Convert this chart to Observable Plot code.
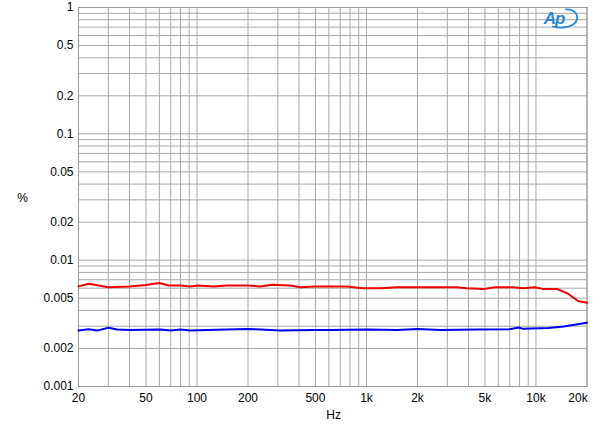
<!DOCTYPE html>
<html><head><meta charset="utf-8">
<script src="https://cdn.jsdelivr.net/npm/d3@7"></script>
<script src="https://cdn.jsdelivr.net/npm/@observablehq/plot@0.6"></script>
<style>body{margin:0;background:#fff;font-family:"Liberation Sans",Arial,sans-serif}</style>
</head><body><div id="chart"></div>
<script>
const redFreq = [20,23,30,40,50,60,68,80,91,102,126,150,197,237,277,356,408,492,611,768,947,1212,1520,1990,2730,3400,3900,4890,5730,7300,8400,9880,11100,13370,15400,17700,20000];
const redVal  = [0.0062,0.0065,0.0061,0.0062,0.00636,0.0066,0.0063,0.0063,0.0062,0.0063,0.0062,0.0063,0.0063,0.0062,0.0064,0.0063,0.0061,0.0062,0.0062,0.0062,0.0060,0.0060,0.0061,0.0061,0.0061,0.0061,0.0060,0.0059,0.0061,0.0061,0.0060,0.0061,0.0059,0.0059,0.00545,0.00475,0.0046];
const blueFreq = [20,23,25.8,30,33.8,40,61,70,80,91,115,197,237,311,492,611,1000,1520,2000,2730,4500,7000,7900,8400,11800,14600,20000];
const blueVal  = [0.00277,0.00284,0.00277,0.00292,0.00283,0.0028,0.00283,0.00277,0.00283,0.00277,0.0028,0.00285,0.00283,0.00277,0.0028,0.0028,0.00283,0.0028,0.00285,0.0028,0.00283,0.00284,0.00293,0.00286,0.0029,0.00298,0.0032];
const xTickVals = [20,50,100,200,500,1000,2000,5000,10000,20000];
const xTickLabels = ["20","50","100","200","500","1k","2k","5k","10k","20k"];
const yTickVals = [1,0.5,0.2,0.1,0.05,0.02,0.01,0.005,0.002,0.001];
const yTickLabels = ["1","0.5","0.2","0.1","0.05","0.02","0.01","0.005","0.002","0.001"];

const xGrid = [];
for (const d of [10,100,1000,10000]) for (let k=1;k<10;k++){const v=k*d; if(v>=20&&v<=20000) xGrid.push(v);}
const yGrid = [];
for (const d of [0.001,0.01,0.1]) for (let k=1;k<10;k++) yGrid.push(+(k*d).toPrecision(3));
yGrid.push(1);

const red = redFreq.map((f,i)=>({f, v:redVal[i]}));
const blue = blueFreq.map((f,i)=>({f, v:blueVal[i]}));
const xl = xTickVals.map((v,i)=>({v, t:xTickLabels[i]}));
const yl = yTickVals.map((v,i)=>({v, t:yTickLabels[i]}));

const plot = Plot.plot({
  width: 600, height: 431,
  marginLeft: 78, marginRight: 13.5, marginTop: 7, marginBottom: 45,
  style: {fontFamily: '"Liberation Sans", Arial, sans-serif', background: "#fff"},
  x: {type: "log", domain: [20, 20000], axis: null},
  y: {type: "log", domain: [0.001, 1], axis: null},
  marks: [
    Plot.gridX(xGrid, {stroke: "#a8a8a8", strokeOpacity: 1}),
    Plot.gridY(yGrid, {stroke: "#a8a8a8", strokeOpacity: 1}),
    Plot.frame({stroke: "#999"}),
    Plot.line(red, {x: "f", y: "v", stroke: "#f00000", strokeWidth: 2, curve: "linear"}),
    Plot.line(blue, {x: "f", y: "v", stroke: "#0000e8", strokeWidth: 2, curve: "linear"}),
    Plot.text(yl, {x: () => 20, y: "v", text: "t", dx: -5, textAnchor: "end", fontSize: 12, fill: "#000"}),
    Plot.text(xl.slice(0, -1), {x: "v", y: () => 0.001, text: "t", dy: 12, fontSize: 12, fill: "#000"}),
    Plot.text(xl.slice(-1), {x: "v", y: () => 0.001, text: "t", dy: 12, dx: -9, fontSize: 12, fill: "#000"}),
    Plot.text(["Hz"], {x: () => 640, y: () => 0.001, dy: 29, fontSize: 12, fill: "#000"}),
    Plot.text(["%"], {x: () => 20, y: () => 0.0316, dx: -56, dy: 1, fontSize: 12, fill: "#000"})
  ]
});
document.getElementById("chart").appendChild(plot);
// AP logo
const svg = d3.select(plot);
const g = svg.append("g");
g.append("path").attr("d", "M566,9.5 C574,9 578,14 577,19 C576,24 570,27 563,27.5 C559,28 556,27.5 553,26.5")
  .attr("fill", "none").attr("stroke", "#2a86d8").attr("stroke-width", 1.8).attr("stroke-linecap", "round");
g.append("text").attr("x", 554).attr("y", 24).attr("font-size", 17).attr("font-style", "italic").attr("font-weight", "bold")
  .attr("font-family", "Liberation Sans, Arial").attr("fill", "#2a86d8").attr("letter-spacing", -1).text("Ap");
</script></body></html>
